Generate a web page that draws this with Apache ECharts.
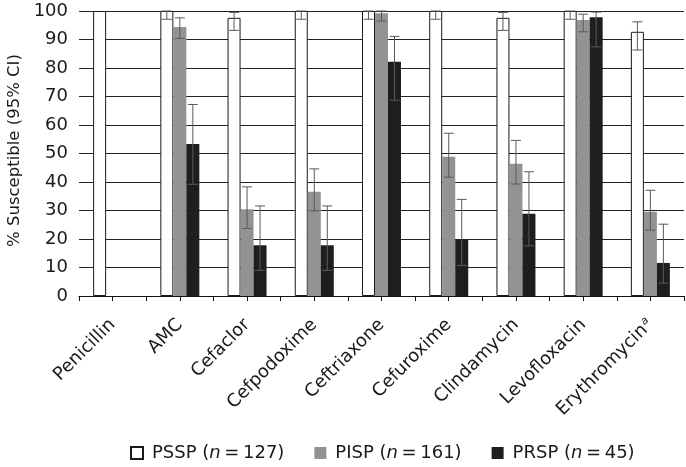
<!DOCTYPE html>
<html>
<head>
<meta charset="utf-8">
<script src="https://cdn.jsdelivr.net/npm/echarts@6/dist/echarts.min.js"></script>
<style>
  html, body { margin: 0; padding: 0; background: #fff; }
  #chart { width: 686px; height: 467px; }
</style>
</head>
<body>
<div id="chart"></div>
<script>
// categories + superscript marks
const categories = ['Penicillin', 'AMC', 'Cefaclor', 'Cefpodoxime', 'Ceftriaxone',
                    'Cefuroxime', 'Clindamycin', 'Levofloxacin', 'Erythromycin'];
const superscripts = ['', '', '', '', '', '', '', '', 'a'];

const seriesNames = ['PSSP', 'PISP', 'PRSP'];
const seriesN = [127, 161, 45];
const yTicks = [0, 10, 20, 30, 40, 50, 60, 70, 80, 90, 100];

// % susceptible
const psspValues = [100, 100, 97.6, 100, 100, 100, 97.6, 100, 92.7];
const pispValues = [null, 94.4, 30.4, 36.6, 99.2, 48.9, 46.4, 96.8, 29.6];
const prspValues = [null, 53.3, 17.8, 17.8, 82.2, 20.0, 28.9, 97.8, 11.6];

// 95% CI
const psspLow  = [null, 97.1, 93.2, 97.1, 97.1, 97.1, 93.2, 97.1, 86.3];
const psspHigh = [null, 100, 99.5, 100, 100, 100, 99.5, 100, 96.2];
const pispLow  = [null, 90.4, 23.7, 29.9, 96.5, 41.7, 39.3, 92.7, 23.1];
const pispHigh = [null, 97.6, 38.3, 44.6, 100, 57.1, 54.6, 98.9, 37.1];
const prspLow  = [null, 39.2, 9.0, 9.0, 68.7, 10.7, 17.6, 87.4, 4.5];
const prspHigh = [null, 67.2, 31.6, 31.6, 91.1, 33.9, 43.6, 99.6, 25.2];

const FONT = 'DejaVu Sans';
const BAR_W = 13;

const chart = echarts.init(document.getElementById('chart'), null, { renderer: 'canvas' });

function ciData(low, high) {
  return categories.map((c, i) => [i, low[i], high[i]]);
}

// draws a whisker for each bar, shifted to the bar's slot
function errorRenderer(offset) {
  return function (params, api) {
    const lo = api.value(1), hi = api.value(2);
    if (lo == null || isNaN(lo)) return;
    const pLo = api.coord([api.value(0), lo]);
    const pHi = api.coord([api.value(0), hi]);
    const x = pLo[0] + offset;
    const cap = 5;
    const st = { stroke: '#5a5a5a', lineWidth: 1 };
    return {
      type: 'group',
      children: [
        { type: 'line', shape: { x1: x, y1: pLo[1], x2: x, y2: pHi[1] }, style: st },
        { type: 'line', shape: { x1: x - cap, y1: pHi[1], x2: x + cap, y2: pHi[1] }, style: st },
        { type: 'line', shape: { x1: x - cap, y1: pLo[1], x2: x + cap, y2: pLo[1] }, style: st }
      ]
    };
  };
}

function errSeries(name, low, high, offset) {
  return {
    name: name,
    type: 'custom',
    xAxisIndex: 0,
    renderItem: errorRenderer(offset),
    encode: { x: 0, y: [1, 2] },
    data: ciData(low, high),
    z: 5,
    silent: true
  };
}

const option = {
  backgroundColor: '#fff',
  animation: false,
  textStyle: { fontFamily: FONT, color: '#1a1a1a' },
  grid: { left: 79, right: 2, top: 11, bottom: 171, containLabel: false, outerBoundsMode: 'none' },
  legend: {
    data: seriesNames,
    left: 125,
    top: 439,
    itemWidth: 12,
    itemHeight: 12,
    itemGap: 30,
    icon: 'rect',
    formatter: function (name) {
      const i = seriesNames.indexOf(name);
      return '{a|' + name + ' (}{i|n}{a|\u2009=\u2009' + seriesN[i] + ')}';
    },
    textStyle: {
      padding: [0, 0, 0, 4],
      rich: {
        a: { fontFamily: FONT, fontSize: 18, color: '#1a1a1a' },
        i: { fontFamily: FONT, fontSize: 18, fontStyle: 'italic', color: '#1a1a1a' }
      }
    }
  },
  xAxis: [
    {
      type: 'category',
      data: categories,
      axisLine: { show: false },
      axisTick: { show: false },
      axisLabel: {
        interval: 0,
        rotate: 45,
        margin: 26,
        formatter: function (v) {
          const s = superscripts[categories.indexOf(v)];
          return s ? '{t|' + v + '}{s|' + s + '}' : '{t|' + v + '}';
        },
        rich: {
          t: { fontFamily: FONT, fontSize: 18, color: '#1a1a1a' },
          s: { fontFamily: FONT, fontSize: 11, fontStyle: 'italic', color: '#1a1a1a', padding: [0, 0, 9, 1] }
        }
      },
      splitLine: { show: false }
    },
    {
      // axis line + half-category tick marks
      type: 'value',
      position: 'bottom',
      min: 0,
      max: categories.length * 2,
      interval: 1,
      axisLine: { show: true, lineStyle: { color: '#111', width: 1 } },
      axisTick: { show: true, length: 5, lineStyle: { color: '#111' } },
      axisLabel: { show: false },
      splitLine: { show: false }
    }
  ],
  yAxis: {
    type: 'value',
    min: yTicks[0],
    max: yTicks[yTicks.length - 1],
    interval: 10,
    name: '% Susceptible (95% CI)',
    nameLocation: 'middle',
    nameGap: 56,
    nameTextStyle: { fontFamily: FONT, fontSize: 16.5, color: '#1a1a1a', padding: [0, 0, 0, 6] },
    axisLine: { show: false },
    axisTick: { show: false },
    axisLabel: { fontFamily: FONT, fontSize: 18, color: '#1a1a1a', margin: 11 },
    splitLine: { show: true, lineStyle: { color: '#222', width: 1 } }
  },
  series: [
    {
      name: seriesNames[0], type: 'bar', barWidth: BAR_W, barGap: '0%',
      data: psspValues,
      itemStyle: { color: '#ffffff', borderColor: '#1a1a1a', borderWidth: 1 }
    },
    {
      name: seriesNames[1], type: 'bar', barWidth: BAR_W, barGap: '0%',
      data: pispValues,
      itemStyle: { color: '#939393' }
    },
    {
      name: seriesNames[2], type: 'bar', barWidth: BAR_W, barGap: '0%',
      data: prspValues,
      itemStyle: { color: '#1e1e1e' }
    },
    errSeries('PSSP CI', psspLow, psspHigh, -BAR_W),
    errSeries('PISP CI', pispLow, pispHigh, 0),
    errSeries('PRSP CI', prspLow, prspHigh, BAR_W)
  ]
};

chart.setOption(option);
</script>
</body>
</html>
